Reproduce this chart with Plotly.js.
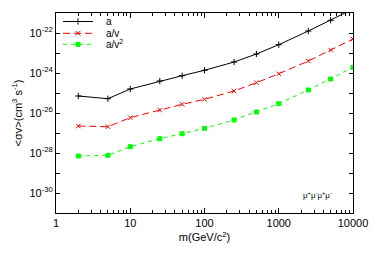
<!DOCTYPE html>
<html>
<head>
<meta charset="utf-8">
<script src="https://cdn.plot.ly/plotly-3.0.1.min.js"></script>
<style>html,body{margin:0;padding:0;background:#fff;}#chart{width:374px;height:262px;}</style>
</head>
<body>
<div id="chart"></div>
<script>
const masses = [2, 5, 10, 25, 50, 100, 250, 500, 1000, 2500, 5000, 10000];
const logA   = [-25.15, -25.285, -24.8, -24.4, -24.135, -23.865, -23.45, -23.05, -22.585, -21.9, -21.365, -20.8];
const logAv  = [-26.65, -26.685, -26.235, -25.85, -25.565, -25.315, -24.9, -24.485, -24.04, -23.4, -22.85, -22.3];
const logAv2 = [-28.15, -28.115, -27.685, -27.285, -27.035, -26.765, -26.35, -25.95, -25.535, -24.85, -24.3, -23.715];
const seriesNames = ['a', 'a/v', 'a/v<sup>2</sup>'];
const seriesColors = ['#000000', '#ff0000', '#00ff00'];
const seriesDash = ['solid', '7px,4px', '4px,4px'];
const seriesSymbols = ['cross-thin-open', 'x-thin-open', 'square'];
const seriesSizes = [4.5, 4.5, 4];
const yTickExps = [-31, -30, -29, -28, -27, -26, -25, -24, -23, -22, -21];
const xTickVals = [1, 10, 100, 1000, 10000];
const xTickText = ['1', '10', '100', '1000', '10000'];

const toVal = arr => arr.map(v => Math.pow(10, v));
const yTickVals = yTickExps.map(e => Math.pow(10, e));
const yTickText = yTickExps.map(e => (e % 2 === 0 && e > -31 && e < -21) ? '10<sup>' + e + '</sup>' : '');
const seriesData = [logA, logAv, logAv2];

const traces = seriesData.map((d, i) => ({
  x: masses, y: toVal(d), name: seriesNames[i], mode: 'lines+markers', showlegend: false,
  line: {color: seriesColors[i], width: 1, dash: seriesDash[i]},
  marker: {symbol: seriesSymbols[i], size: seriesSizes[i], color: seriesColors[i],
           line: {width: 1, color: seriesColors[i]}}
}));

const fam = 'Liberation Sans, Arial, sans-serif';
// compact legend (gnuplot style) drawn in plot-fraction units
const legY = [0.9575, 0.8985, 0.8435];
const legX0 = 0.0236, legX1 = 0.1246, legXm = 0.074, legXt = 0.162;
const shapes = [];
const annotations = [];
seriesNames.forEach((n, i) => {
  shapes.push({type: 'line', xref: 'paper', yref: 'paper', x0: legX0, x1: legX1, y0: legY[i], y1: legY[i],
               line: {color: seriesColors[i], width: 1, dash: seriesDash[i]}});
  annotations.push({xref: 'paper', yref: 'paper', x: legXt, y: legY[i], xanchor: 'left', yanchor: 'middle',
                    text: n, showarrow: false, font: {family: fam, size: 10, color: '#000'}});
  traces.push({x: [legXm], y: [legY[i]], xaxis: 'x2', yaxis: 'y2', mode: 'markers', showlegend: false,
               cliponaxis: false, hoverinfo: 'skip',
               marker: {symbol: seriesSymbols[i], size: seriesSizes[i], color: seriesColors[i],
                        line: {width: 1, color: seriesColors[i]}}});
});
annotations.push({xref: 'paper', yref: 'paper', x: 0.882, y: 0.09, xanchor: 'center', yanchor: 'middle',
                  text: 'μ<sup>+</sup>μ<sup>-</sup>μ<sup>+</sup>μ<sup>-</sup>', showarrow: false,
                  font: {family: fam, size: 8, color: '#000'}});

const font = {family: fam, size: 11, color: '#000'};

const layout = {
  width: 374, height: 262,
  margin: {l: 56, r: 21, t: 13, b: 49},
  paper_bgcolor: '#fff', plot_bgcolor: '#fff',
  font: font,
  showlegend: false,
  xaxis: {type: 'log', range: [0, 4], tickvals: xTickVals, ticktext: xTickText,
          ticks: 'inside', ticklen: 5, tickcolor: '#000', showline: true, linecolor: '#000', linewidth: 1,
          mirror: 'ticks', showgrid: false, zeroline: false, tickfont: {family: fam, size: 11},
          minor: {ticks: 'inside', ticklen: 3, tickcolor: '#000', dtick: 'D1', showgrid: false},
          title: {text: 'm(GeV/c<sup>2</sup>)', font: {family: fam, size: 11}, standoff: 5}},
  yaxis: {type: 'log', range: [-31, -21], tickvals: yTickVals, ticktext: yTickText,
          ticks: 'inside', ticklen: 4, tickcolor: '#000', showline: true, linecolor: '#000', linewidth: 1,
          mirror: 'ticks', showgrid: false, zeroline: false, tickfont: {family: fam, size: 11},
          title: {text: '<σv>(cm<sup>3</sup> s<sup>-1</sup>)', font: {family: fam, size: 11}, standoff: 4}},
  xaxis2: {overlaying: 'x', range: [0, 1], visible: false, fixedrange: true},
  yaxis2: {overlaying: 'y', range: [0, 1], visible: false, fixedrange: true},
  shapes: shapes,
  annotations: annotations
};

Plotly.newPlot('chart', traces, layout, {staticPlot: true, displayModeBar: false});
</script>
</body>
</html>
